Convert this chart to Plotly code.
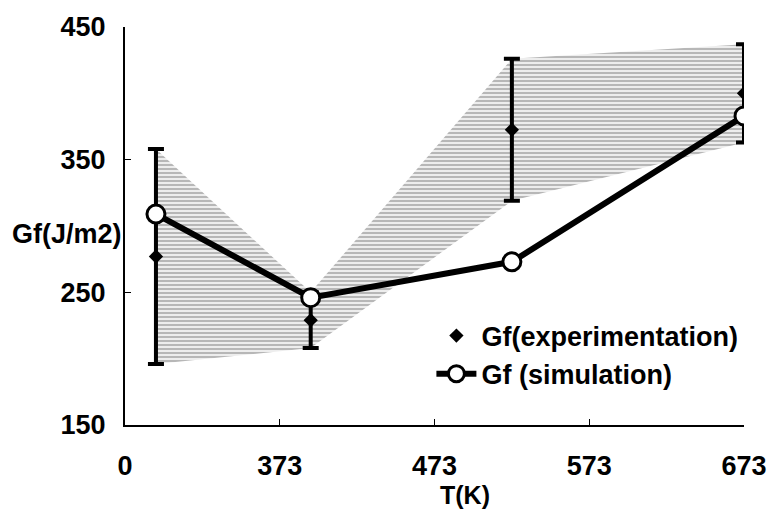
import plotly.graph_objects as go

# Data
temps_k = [293, 393, 523, 673]            # measurement temperatures (K)
gf_exp = [277, 229, 372.5, 400]           # Gf experimentation (J/m2)
gf_exp_err = [81, 21, 53.5, 37]           # half-range of error bars
gf_sim = [309, 246, 273, 383]             # Gf simulation (J/m2)

x_tick_vals = [273, 373, 473, 573, 673]
x_tick_text = ["0", "373", "473", "573", "673"]
y_tick_vals = [150, 250, 350, 450]

upper = [v + e for v, e in zip(gf_exp, gf_exp_err)]
lower = [v - e for v, e in zip(gf_exp, gf_exp_err)]

FONT = "Liberation Sans, Arial, sans-serif"

fig = go.Figure()

# Shaded envelope of experimental scatter
fig.add_trace(go.Scatter(
    x=temps_k, y=lower, mode="lines", line=dict(width=0),
    showlegend=False, hoverinfo="skip"))
fig.add_trace(go.Scatter(
    x=temps_k, y=upper, mode="lines", line=dict(width=0),
    fill="tonexty", fillcolor="rgba(200,200,200,0.5)",
    fillpattern=dict(shape="-", fgcolor="rgba(40,40,40,0.7)",
                     bgcolor="rgba(220,220,220,0.5)", size=4, solidity=0.4),
    showlegend=False, hoverinfo="skip"))

# Experimental points with error bars
fig.add_trace(go.Scatter(
    x=temps_k, y=gf_exp, mode="markers", name="Gf(experimentation)",
    marker=dict(symbol="diamond", size=11, color="black"),
    error_y=dict(type="data", array=gf_exp_err, color="black",
                 thickness=4, width=8)))

# Simulation line
fig.add_trace(go.Scatter(
    x=temps_k, y=gf_sim, mode="lines+markers", name="Gf (simulation)",
    line=dict(color="black", width=6),
    marker=dict(symbol="circle", size=18, color="white",
                line=dict(color="black", width=3))))

fig.add_annotation(text="<b>Gf(J/m2)</b>", xref="paper", yref="y", x=-0.093, y=294,
                   xanchor="center", yanchor="middle", showarrow=False,
                   font=dict(family=FONT, size=27, color="black"))
fig.add_annotation(text="<b>T(K)</b>", xref="x", yref="paper", x=493, y=-0.175,
                   xanchor="center", yanchor="middle", showarrow=False,
                   font=dict(family=FONT, size=25, color="black"))

fig.update_layout(
    width=779, height=511,
    margin=dict(l=125, r=31, t=19, b=86),
    paper_bgcolor="white", plot_bgcolor="white",
    font=dict(family=FONT, color="black"),
    showlegend=True,
    legend=dict(x=0.495, y=0.285, xanchor="left", yanchor="top",
                traceorder="normal",
                bgcolor="rgba(0,0,0,0)",
                font=dict(family=FONT, size=27, weight="bold"),
                itemwidth=40, tracegroupgap=0),
)
fig.update_xaxes(
    range=[273, 673], tickvals=x_tick_vals, ticktext=x_tick_text,
    showgrid=False, zeroline=False, showline=True, linecolor="black",
    linewidth=2, ticks="inside", ticklen=6, tickcolor="black",
    tickfont=dict(family=FONT, size=27, weight="bold"), ticklabelstandoff=16)
fig.update_yaxes(
    range=[150, 450], tickvals=y_tick_vals,
    showgrid=False, zeroline=False, showline=True, linecolor="black",
    linewidth=2, ticks="inside", ticklen=6, tickcolor="black",
    tickfont=dict(family=FONT, size=27, weight="bold"), ticklabelstandoff=12)

fig.write_html("out.html")
